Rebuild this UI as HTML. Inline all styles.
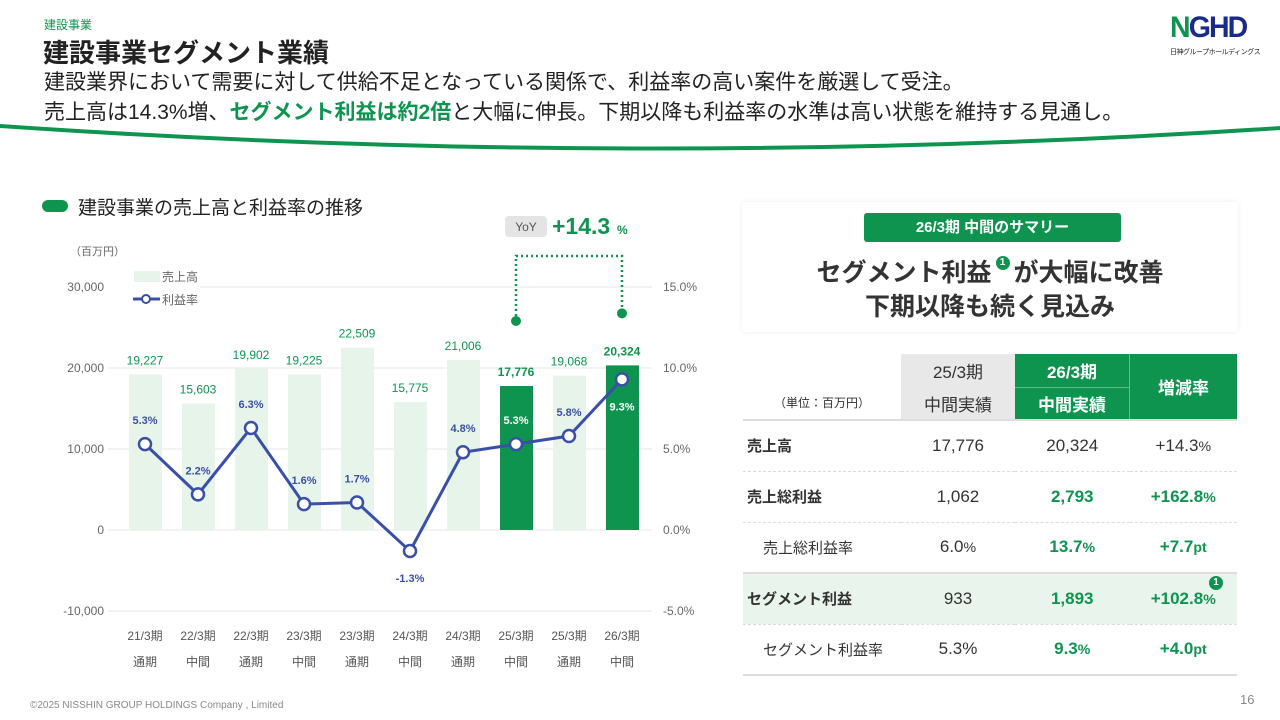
<!DOCTYPE html>
<html><head><meta charset="utf-8">
<style>
body{margin:0;width:1280px;height:720px;background:#fff;font-family:"Liberation Sans","Noto Sans CJK JP",sans-serif;position:relative;overflow:hidden;color:#333}
.abs{position:absolute}
table{border-collapse:collapse}
</style></head><body>
<div class="abs" style="left:44px;top:16px;font-size:12px;color:#0f9450">建設事業</div>
<div class="abs" style="left:43px;top:33px;font-size:26px;font-weight:bold;color:#222">建設事業セグメント業績</div>
<div class="abs" style="left:44px;top:68px;font-size:21px;line-height:30px;color:#222;white-space:nowrap">建設業界において需要に対して供給不足となっている関係で、利益率の高い案件を厳選して受注。<br>売上高は14.3%増、<b style="color:#0f9450">セグメント利益は約2倍</b>と大幅に伸長。下期以降も利益率の水準は高い状態を維持する見通し。</div>
<div class="abs" style="left:1170px;top:12px;width:100px">
<div style="font-size:30px;font-weight:bold;color:#1a2a8a;letter-spacing:-2px;line-height:32px;transform:scaleX(0.95);transform-origin:left"><span style="color:#0f9450">N</span>GHD</div>
<div style="font-size:7px;color:#222;margin-top:3px;white-space:nowrap;letter-spacing:-0.5px">日神グループホールディングス</div></div>
<svg class="abs" style="left:0;top:0" width="1280" height="160"><path d="M0 126 Q640 170 1280 128" stroke="#0f9450" stroke-width="4" fill="none"/></svg>

<div class="abs" style="left:42px;top:193px;font-size:19px;color:#222"><span style="display:inline-block;width:26px;height:12px;border-radius:6px;background:#0f9450;margin-right:10px;vertical-align:2px"></span>建設事業の売上高と利益率の推移</div>

<svg id="chart" class="abs" style="left:0;top:0" width="740" height="690"></svg>

<div class="abs" style="left:742px;top:202px;width:496px;height:130px;background:#fff;box-shadow:0 0 6px rgba(0,0,0,0.08);border-radius:4px"></div>
<div class="abs" style="left:864px;top:213px;width:257px;height:29px;background:#0f9450;border-radius:3px;color:#fff;font-size:15px;font-weight:bold;text-align:center;line-height:29px">26/3期 中間のサマリー</div>
<div class="abs" style="left:742px;top:256px;width:496px;text-align:center;font-size:25px;font-weight:bold;line-height:34px;color:#333">セグメント利益<span style="display:inline-block;width:14px;height:14px;border-radius:7px;background:#0f9450;color:#fff;font-size:10px;line-height:14px;vertical-align:16px;margin:0 4px">1</span>が大幅に改善<br>下期以降も続く見込み</div>

<table class="abs" style="left:743px;top:354px;width:494px;font-size:17px">
<tr style="height:33px"><td rowspan="2" style="width:156px;vertical-align:bottom;text-align:center;font-size:12px;padding-bottom:8px">（単位：百万円）</td>
<td style="width:112px;background:#e8e8e8;text-align:center">25/3期</td>
<td style="width:112px;background:#0f9450;color:#fff;font-weight:bold;text-align:center;border-bottom:1px solid #5fbf8a">26/3期</td>
<td rowspan="2" style="background:#0f9450;color:#fff;font-weight:bold;text-align:center;border-left:1px solid #5fbf8a">増減率</td></tr>
<tr style="height:33px"><td style="background:#e8e8e8;text-align:center">中間実績</td><td style="background:#0f9450;color:#fff;font-weight:bold;text-align:center">中間実績</td></tr>
<tr style="height:51px;border-top:2px solid #ddd;border-bottom:1px dashed #ddd"><td style="font-weight:bold;font-size:15px;padding-left:4px">売上高</td><td style="text-align:center">17,776</td><td style="text-align:center">20,324</td><td style="text-align:center">+14.3<small>%</small></td></tr>
<tr style="height:51px;border-bottom:1px dashed #ddd"><td style="font-weight:bold;font-size:15px;padding-left:4px">売上総利益</td><td style="text-align:center">1,062</td><td style="text-align:center;color:#0f9450;font-weight:bold">2,793</td><td style="text-align:center;color:#0f9450;font-weight:bold">+162.8<small>%</small></td></tr>
<tr style="height:51px;border-bottom:2px solid #ddd"><td style="font-size:15px;padding-left:20px">売上総利益率</td><td style="text-align:center">6.0<small>%</small></td><td style="text-align:center;color:#0f9450;font-weight:bold">13.7<small>%</small></td><td style="text-align:center;color:#0f9450;font-weight:bold">+7.7<small>pt</small></td></tr>
<tr style="height:51px;background:#e9f5ec;border-bottom:1px dashed #ddd"><td style="font-weight:bold;font-size:15px;padding-left:4px">セグメント利益</td><td style="text-align:center">933</td><td style="text-align:center;color:#0f9450;font-weight:bold">1,893</td><td style="text-align:center;color:#0f9450;font-weight:bold;position:relative">+102.8<small>%</small><span style="position:absolute;right:14px;top:2px;width:14px;height:14px;border-radius:7px;background:#0f9450;color:#fff;font-size:10px;line-height:14px">1</span></td></tr>
<tr style="height:51px;border-bottom:2px solid #ddd"><td style="font-size:15px;padding-left:20px">セグメント利益率</td><td style="text-align:center">5.3%</td><td style="text-align:center;color:#0f9450;font-weight:bold">9.3<small>%</small></td><td style="text-align:center;color:#0f9450;font-weight:bold">+4.0<small>pt</small></td></tr>
</table>

<div class="abs" style="left:30px;top:700px;font-size:10px;color:#888">©2025 NISSHIN GROUP HOLDINGS Company , Limited</div>
<div class="abs" style="left:1240px;top:692px;font-size:13px;color:#888">16</div>

<script>
const categories=["21/3期","22/3期","22/3期","23/3期","23/3期","24/3期","24/3期","25/3期","25/3期","26/3期"];
const periods=["通期","中間","通期","中間","通期","中間","通期","中間","通期","中間"];
const sales=[19227,15603,19902,19225,22509,15775,21006,17776,19068,20324];
const salesLabels=["19,227","15,603","19,902","19,225","22,509","15,775","21,006","17,776","19,068","20,324"];
const margin=[5.3,2.2,6.3,1.6,1.7,-1.3,4.8,5.3,5.8,9.3];
const highlight=[0,0,0,0,0,0,0,1,0,1];
const leftTicks=[30000,20000,10000,0,-10000];
const leftTickLabels=["30,000","20,000","10,000","0","-10,000"];
const rightTicks=[15,10,5,0,-5];
const rightTickLabels=["15.0%","10.0%","5.0%","0.0%","-5.0%"];
const svg=document.getElementById('chart');
const NS="http://www.w3.org/2000/svg";
const yL=v=>530-v*0.0081;
const yR=v=>530-v*16.2;
const xC=i=>145+i*53;
function mk(t,a,txt){const e=document.createElementNS(NS,t);for(const k in a)e.setAttribute(k,a[k]);if(txt!==undefined)e.textContent=txt;svg.appendChild(e);return e;}
let e;
e=mk('text',{x:70,y:255,'font-size':11,fill:'#666'},'（百万円）');


leftTicks.forEach((t,i)=>{
 e=mk('line',{x1:t===30000?200:108,x2:652,y1:yL(t),y2:yL(t),stroke:'#e4e4e4','stroke-width':1});
 
 
 e=mk('text',{x:104,y:yL(t)+4,'font-size':12,fill:'#666','text-anchor':'end'},leftTickLabels[i]);
 
 
});
rightTicks.forEach((t,i)=>{
 e=mk('text',{x:663,y:yR(t)+4,'font-size':12,fill:'#666'},rightTickLabels[i]);
 
 
});
sales.forEach((v,i)=>{
 e=mk('rect',{x:xC(i)-16,y:yL(v),width:33,height:yL(0)-yL(v),fill:highlight[i]?'#0f9450':'#e6f4ea'});
 
 
 e=mk('text',{x:xC(i),y:yL(v)-10,'font-size':12,fill:'#0f9450','text-anchor':'middle','font-weight':highlight[i]?'bold':'normal'},salesLabels[i]);
 
 
 e=mk('text',{x:xC(i),y:640,'font-size':12,fill:'#555','text-anchor':'middle'},categories[i]);
 
 
 e=mk('text',{x:xC(i),y:666,'font-size':12,fill:'#555','text-anchor':'middle'},periods[i]);
 
 
});
e=mk('polyline',{points:margin.map((m,i)=>xC(i)+','+yR(m)).join(' '),fill:'none',stroke:'#3a4fa8','stroke-width':3});


margin.forEach((m,i)=>{
 e=mk('circle',{cx:xC(i),cy:yR(m),r:6,fill:'#fff',stroke:'#3a4fa8','stroke-width':2.5});
 
 
 let below=(m<0||i===9);
 let white=highlight[i]===1;
 e=mk('text',{x:xC(i),y:below?yR(m)+31:yR(m)-20,'font-size':11,'font-weight':'bold',fill:white?'#fff':'#3a4fa8','text-anchor':'middle'},m.toFixed(1)+'%');
 
 
});
e=mk('rect',{x:134,y:271,width:26,height:11,fill:'#e6f4ea'});


e=mk('text',{x:162,y:281,'font-size':12,fill:'#666'},'売上高');


e=mk('line',{x1:133,x2:160,y1:299,y2:299,stroke:'#3a4fa8','stroke-width':3});


e=mk('circle',{cx:146,cy:299,r:4,fill:'#fff',stroke:'#3a4fa8','stroke-width':2});


e=mk('text',{x:162,y:304,'font-size':12,fill:'#666'},'利益率');


e=mk('path',{d:`M${xC(7)} ${yL(sales[7])-65} V256 H${xC(9)} V${yL(sales[9])-52}`,fill:'none',stroke:'#0f9450','stroke-width':2.5,'stroke-dasharray':'2 3'});


e=mk('circle',{cx:xC(7),cy:yL(sales[7])-65,r:5,fill:'#0f9450'});


e=mk('circle',{cx:xC(9),cy:yL(sales[9])-52,r:5,fill:'#0f9450'});


e=mk('rect',{x:505,y:216,width:42,height:21,rx:4,fill:'#e4e4e4'});


e=mk('text',{x:526,y:231,'font-size':12,fill:'#555','text-anchor':'middle'},'YoY');


e=mk('text',{x:552,y:234,'font-size':23,'font-weight':'bold',fill:'#0f9450'},'+14.3');


e=mk('text',{x:617,y:234,'font-size':12,'font-weight':'bold',fill:'#0f9450'},'%');


</script>
</body></html>
